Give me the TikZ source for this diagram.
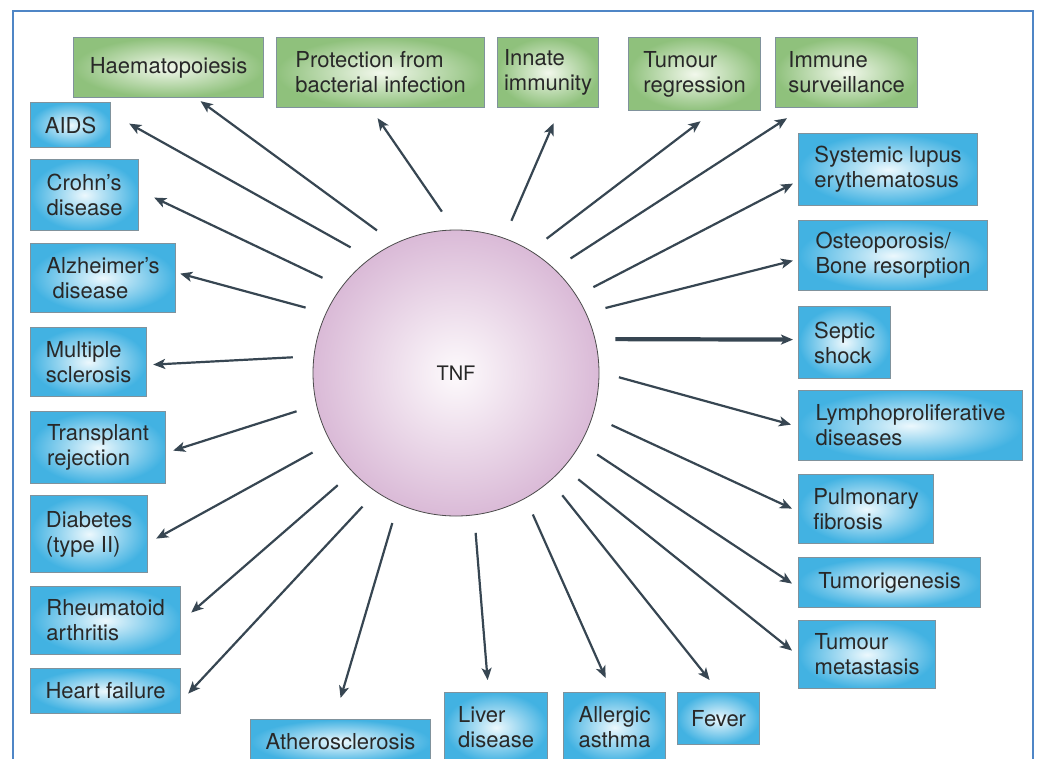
\documentclass[tikz,border=0pt]{standalone}
\usepackage{fontspec}
\setmainfont{TeX Gyre Heros}
\usetikzlibrary{arrows.meta}
\definecolor{frameblue}{RGB}{79,134,198}
\definecolor{arrowgrey}{RGB}{55,70,82}
\definecolor{boxline}{RGB}{128,146,156}
\definecolor{cyanedge}{RGB}{66,178,226}
\definecolor{cyanmid}{RGB}{236,248,253}
\definecolor{greenedge}{RGB}{143,193,124}
\definecolor{greenmid}{RGB}{242,248,236}
\definecolor{tnfedge}{RGB}{218,186,215}
\definecolor{tnfmid}{RGB}{253,250,252}
\definecolor{txt}{RGB}{40,40,40}
\newcommand{\bx}{\fontsize{22}{25}\selectfont}

\begin{document}
\begin{tikzpicture}[x=1pt,y=-1pt,
   box/.style={draw=boxline,line width=1.2pt,anchor=north west,inner sep=0pt,
     align=left,font=\bx,text=txt},
   disbox/.style={box,inner color=cyanmid,outer color=cyanedge},
   hostbox/.style={box,inner color=greenmid,outer color=greenedge},
   arr/.style={arrowgrey,line width=2.2pt,-{Stealth[length=12pt,width=10pt,inset=3pt]}}]
   \path[use as bounding box,clip] (0,0) rectangle (1039,758);
   \fill[white] (0,0) rectangle (1039,758);
   \draw[frameblue,line width=2.5pt] (13,770) -- (13,11) -- (1033,11) -- (1033,770);

   \node[circle,draw=black!70,line width=0.8pt,minimum size=286pt,inner color=tnfmid,
     outer color=tnfedge,font=\fontsize{20}{24}\selectfont,text=txt] (tnf) at (456,373) {TNF};

   \node[hostbox,minimum width=190pt,minimum height=60pt] (haem) at (73,37) {Haematopoiesis};
   \node[hostbox,minimum width=208pt,minimum height=70pt] (prot) at (276,37) {Protection from\\bacterial infection};
   \node[hostbox,minimum width=101pt,minimum height=70pt] (innate) at (497,37) {Innate\\immunity};
   \node[hostbox,minimum width=132pt,minimum height=73pt] (tumreg) at (628,37) {Tumour\\regression};
   \node[hostbox,minimum width=142pt,minimum height=70pt] (immsurv) at (775,37) {Immune\\surveillance};

   \node[disbox,minimum width=80pt,minimum height=45pt] (aids) at (30,102) {AIDS};
   \node[disbox,minimum width=108pt,minimum height=71pt] (crohn) at (30,159) {Crohn’s\\disease};
   \node[disbox,minimum width=145pt,minimum height=69pt] (alz) at (30,243) {Alzheimer’s\\\ disease};
   \node[disbox,minimum width=116pt,minimum height=69pt] (ms) at (30,327) {Multiple\\sclerosis};
   \node[disbox,minimum width=135pt,minimum height=72pt] (transp) at (30,411) {Transplant\\rejection};
   \node[disbox,minimum width=117pt,minimum height=77pt] (diab) at (30,495) {Diabetes\\(type II)};
   \node[disbox,minimum width=150pt,minimum height=68pt] (rheum) at (30,586) {Rheumatoid\\arthritis};
   \node[disbox,minimum width=150pt,minimum height=45pt] (heart) at (30,668) {Heart failure};

   \node[disbox,minimum width=179pt,minimum height=72pt] (sle) at (798,133) {Systemic lupus\\erythematosus};
   \node[disbox,minimum width=189pt,minimum height=70pt] (osteo) at (798,220) {Osteoporosis/\\Bone resorption};
   \node[disbox,minimum width=92pt,minimum height=72pt] (septic) at (798,306) {Septic\\shock};
   \node[disbox,minimum width=224pt,minimum height=70pt] (lympho) at (798,390) {Lymphoproliferative\\diseases};
   \node[disbox,minimum width=135pt,minimum height=69pt] (pulm) at (798,474) {Pulmonary\\fibrosis};
   \node[disbox,minimum width=182pt,minimum height=50pt] (tumori) at (798,557) {Tumorigenesis};
   \node[disbox,minimum width=137pt,minimum height=68pt] (metast) at (798,620) {Tumour\\metastasis};

   \node[disbox,minimum width=180pt,minimum height=44pt] (athero) at (250,719) {Atherosclerosis};
   \node[disbox,minimum width=103pt,minimum height=70pt] (liver) at (444,692) {Liver\\disease};
   \node[disbox,minimum width=102pt,minimum height=70pt] (allergic) at (563,692) {Allergic\\asthma};
   \node[disbox,minimum width=82pt,minimum height=52pt] (fever) at (677,692) {Fever};

   \draw[arr] (tnf.center) ++(-119:163) -- ([shift={(32,3)}]haem.south);
   \draw[arr] (tnf.center) ++(-95:162) -- ([shift={(-3,10)}]prot.south);
   \draw[arr] (tnf.center) ++(-70:162) -- ([shift={(5.5,15)}]innate.south);
   \draw[arr] (tnf.center) ++(-56:162) -- ([shift={(6,10)}]tumreg.south);
   \draw[arr] (tnf.center) ++(-45:162) -- ([shift={(12,10)}]immsurv.south west);

   \draw[arr] (tnf.center) ++(-130:164) -- ([shift={(18,-1.5)}]aids.east);
   \draw[arr] (tnf.center) ++(-144.5:164) -- ([shift={(15,2.5)}]crohn.east);
   \draw[arr] (tnf.center) ++(-156.5:164) -- ([shift={(4,-4.5)}]alz.east);
   \draw[arr] (tnf.center) ++(-174.5:164) -- ([shift={(6,2.5)}]ms.east);
   \draw[arr] (tnf.center) ++(166.5:164) -- ([shift={(7,3)}]transp.east);
   \draw[arr] (tnf.center) ++(151:164) -- ([shift={(8,4.5)}]diab.east);
   \draw[arr] (tnf.center) ++(136.5:163) -- ([shift={(10,-8)}]rheum.east);
   \draw[arr] (tnf.center) ++(125:163) -- ([shift={(7,2.5)}]heart.east);

   \draw[arr] (tnf.center) ++(113:163) -- ([shift={(0,-21)}]athero.north);
   \draw[arr] (tnf.center) ++(83:161) -- ([shift={(-8.5,-12)}]liver.north);
   \draw[arr] (tnf.center) ++(61.5:161) -- ([shift={(-9,-14)}]allergic.north);
   \draw[arr] (tnf.center) ++(49:162) -- ([shift={(-9,-12)}]fever.north);

   \draw[arr] (tnf.center) ++(41:162) -- ([shift={(-6,-4)}]metast.west);
   \draw[arr] (tnf.center) ++(30:163) -- ([shift={(-6,1)}]tumori.west);
   \draw[arr] (tnf.center) ++(18.5:164) -- ([shift={(-6,-0.5)}]pulm.west);
   \draw[arr] (tnf.center) ++(1.5:163) -- ([shift={(-7,-1)}]lympho.west);
   \draw[arr,line width=4.2pt] (tnf.center) ++(-12:163) -- ([shift={(-5,-3)}]septic.west);
   \draw[arr] (tnf.center) ++(-23.5:163) -- ([shift={(-5,5)}]osteo.west);
   \draw[arr] (tnf.center) ++(-32:162) -- ([shift={(-5,14)}]sle.west);
\end{tikzpicture}
\end{document}
